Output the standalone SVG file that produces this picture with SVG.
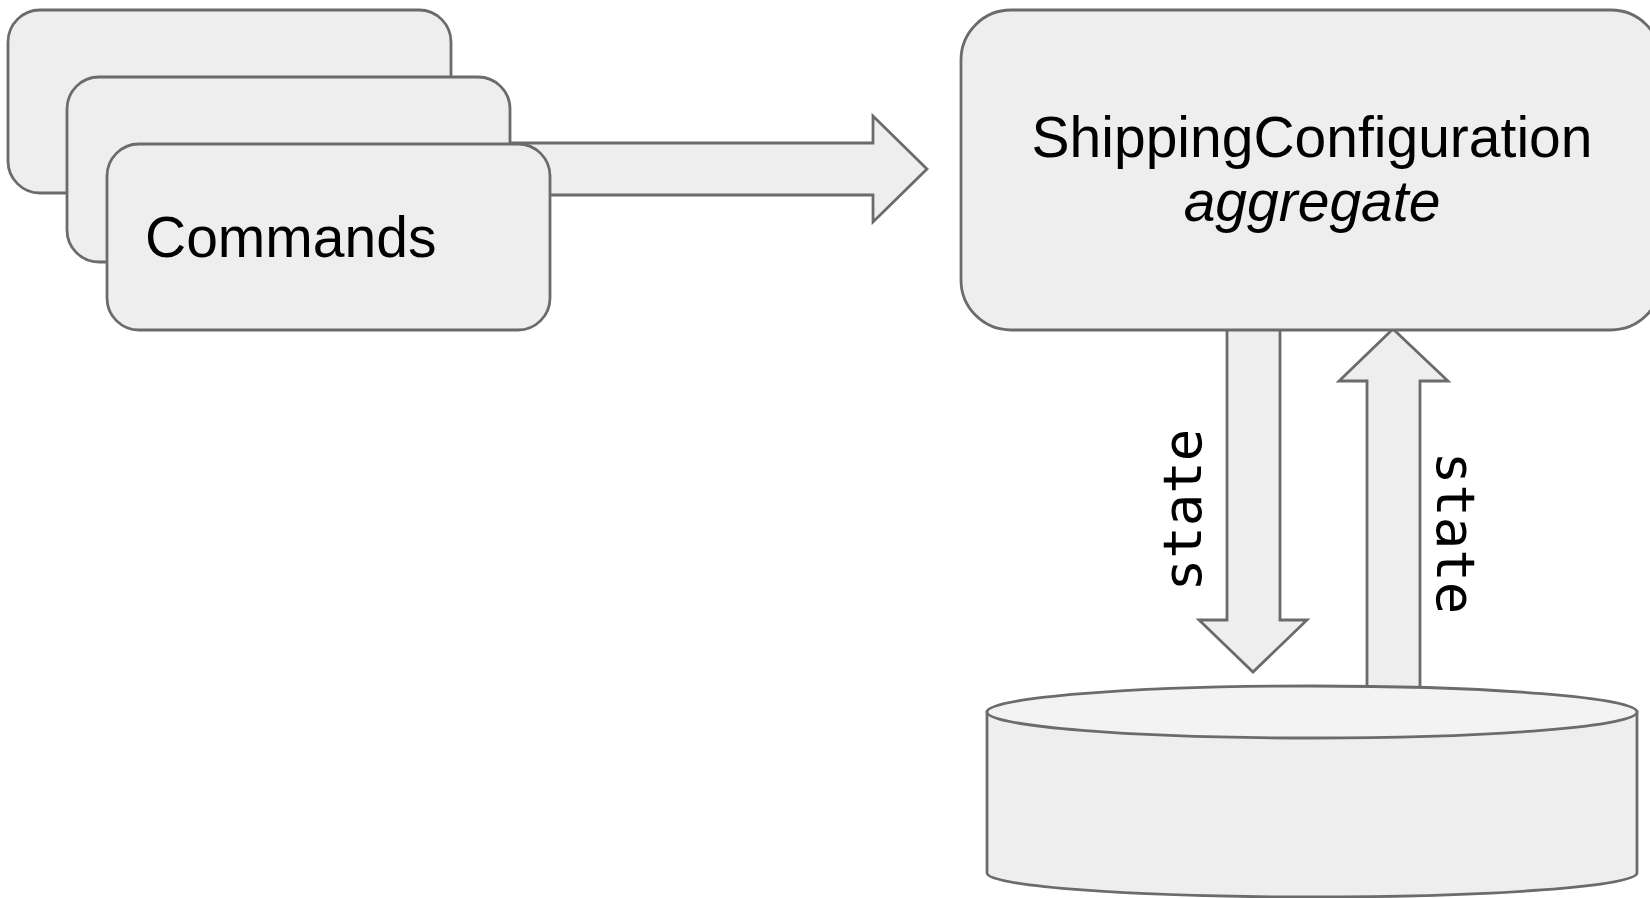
<svg xmlns="http://www.w3.org/2000/svg" width="1650" height="898" viewBox="0 0 1650 898">
  <style>
    .shape { fill: #eeeeee; stroke: #6b6b6b; stroke-width: 2.8; stroke-linejoin: miter; }
    .lid { fill: #f3f3f3; stroke: #6b6b6b; stroke-width: 2.8; }
    .label { font-family: "Liberation Sans", Arial, sans-serif; font-size: 57px; fill: #000; }
    .mono { font-family: "DejaVu Sans Mono", "Liberation Mono", monospace; font-size: 54px; fill: #000; }
  </style>
  <rect width="1650" height="898" fill="#ffffff"/>

  <!-- connectors (block arrows) -->
  <g id="connectors">
    <path id="cmd-to-aggregate" class="shape" d="M 500 143 L 873 143 L 873 116 L 927 169 L 873 222 L 873 195 L 500 195 Z"/>
    <path id="aggregate-to-store" class="shape" d="M 1227 328 L 1280 328 L 1280 620 L 1307 620 L 1253 672 L 1199 620 L 1227 620 Z"/>
    <path id="store-to-aggregate" class="shape" d="M 1367 700 L 1367 381 L 1339 381 L 1393 329 L 1448 381 L 1420 381 L 1420 700 Z"/>
    <text class="mono" text-anchor="middle" transform="translate(1201 510) rotate(-90)">state</text>
    <text class="mono" text-anchor="middle" transform="translate(1437 533) rotate(90)">state</text>
  </g>

  <!-- stacked command cards -->
  <g id="commands">
    <rect class="shape" x="8" y="10" width="443" height="183" rx="32" ry="32"/>
    <rect class="shape" x="67" y="77" width="443" height="185" rx="32" ry="32"/>
    <rect class="shape" x="107" y="144" width="443" height="186" rx="32" ry="32"/>
    <text class="label" x="145" y="257">Commands</text>
  </g>

  <!-- aggregate -->
  <g id="aggregate">
    <rect class="shape" x="961" y="10" width="700" height="320" rx="50" ry="50"/>
    <text class="label" text-anchor="middle" x="1312" y="157">ShippingConfiguration</text>
    <text class="label" text-anchor="middle" x="1312" y="221" font-style="italic">aggregate</text>
  </g>

  <!-- storage cylinder -->
  <g id="store">
    <path class="shape" d="M 987 712 L 987 873 A 325 24 0 0 0 1637 873 L 1637 712 Z"/>
    <ellipse class="lid" cx="1312" cy="712" rx="325" ry="26"/>
  </g>
</svg>
